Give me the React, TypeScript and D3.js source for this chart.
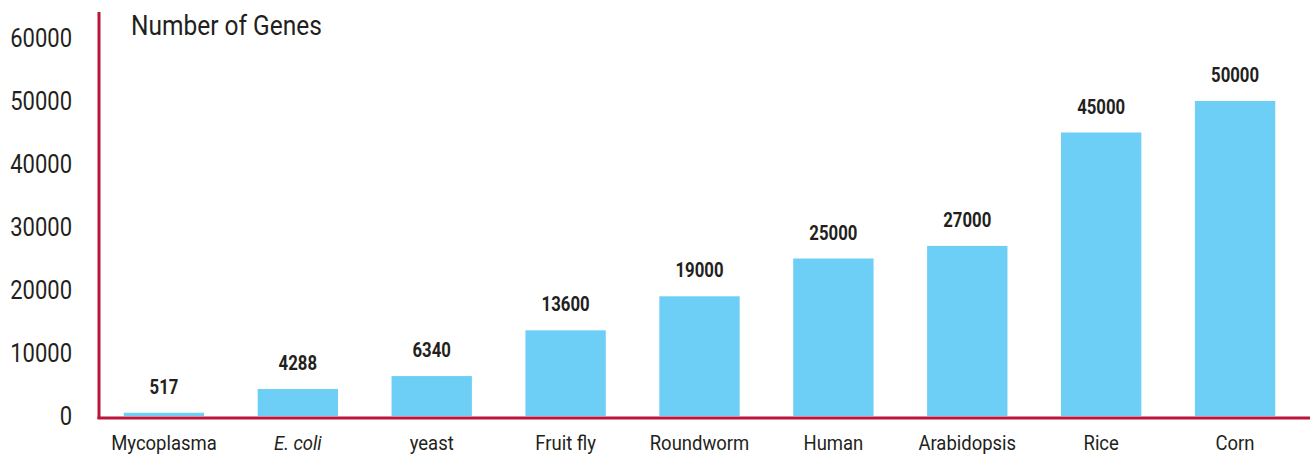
import React, { useEffect, useRef } from "react";
import * as d3 from "d3";

const organisms = [
  "Mycoplasma",
  "E. coli",
  "yeast",
  "Fruit fly",
  "Roundworm",
  "Human",
  "Arabidopsis",
  "Rice",
  "Corn",
];
const geneCounts = [517, 4288, 6340, 13600, 19000, 25000, 27000, 45000, 50000];
const yTicks = [0, 10000, 20000, 30000, 40000, 50000, 60000];
const italicNames = ["E. coli"];

// no condensed font offline, so Roboto squeezed horizontally
const FONT = "Roboto, 'Liberation Sans', sans-serif";
const AXIS_RED = "#b8173a";
const BAR_BLUE = "#6dcff6";
const TEXT = "#231f20";

function App() {
  const svgRef: any = useRef(null);

  useEffect(() => {
    document.body.style.margin = "0";
    draw();
  }, []);

  const draw = () => {
    const svg = d3.select(svgRef.current);
    svg.selectAll("*").remove();

    const x = d3
      .scaleBand()
      .domain(organisms)
      .range([97, 1302])
      .paddingInner(0.4)
      .paddingOuter(0.2);

    const y = d3.scaleLinear().domain([0, 60000]).range([416, 38]);

    // bars
    svg
      .append("g")
      .selectAll("rect")
      .data(geneCounts)
      .join("rect")
      .attr("x", (d, i) => x(organisms[i]) as number)
      .attr("y", (d) => y(d))
      .attr("width", x.bandwidth())
      .attr("height", (d) => y(0) - y(d))
      .attr("fill", BAR_BLUE);

    // value labels
    svg
      .append("g")
      .selectAll("text")
      .data(geneCounts)
      .join("text")
      .attr(
        "transform",
        (d, i) =>
          `translate(${(x(organisms[i]) as number) + x.bandwidth() / 2},${y(d) - 19}) scale(0.86,1)`
      )
      .attr("text-anchor", "middle")
      .attr("font-family", FONT)
      .attr("font-weight", "bold")
      .attr("font-size", 19.5)
      .attr("fill", TEXT)
      .text((d) => d);

    // axes lines
    svg
      .append("line")
      .attr("x1", 99)
      .attr("x2", 99)
      .attr("y1", 12)
      .attr("y2", 419)
      .attr("stroke", AXIS_RED)
      .attr("stroke-width", 3);

    svg
      .append("line")
      .attr("x1", 97.5)
      .attr("x2", 1310)
      .attr("y1", 418)
      .attr("y2", 418)
      .attr("stroke", AXIS_RED)
      .attr("stroke-width", 3);

    // y tick labels
    svg
      .append("g")
      .selectAll("text")
      .data(yTicks)
      .join("text")
      .attr("transform", (d) => `translate(72,${y(d) + 9}) scale(0.88,1)`)
      .attr("text-anchor", "end")
      .attr("font-family", FONT)
      .attr("font-size", 25)
      .attr("fill", TEXT)
      .text((d) => d);

    // category labels
    svg
      .append("g")
      .selectAll("text")
      .data(organisms)
      .join("text")
      .attr(
        "transform",
        (d) => `translate(${(x(d) as number) + x.bandwidth() / 2},450) scale(0.88,1)`
      )
      .attr("text-anchor", "middle")
      .attr("font-family", FONT)
      .attr("font-size", 21)
      .attr("font-style", (d) => (italicNames.includes(d) ? "italic" : "normal"))
      .attr("fill", TEXT)
      .text((d) => d);

    // title
    svg
      .append("text")
      .attr("transform", "translate(131,35) scale(0.875,1)")
      .attr("font-family", FONT)
      .attr("font-size", 28)
      .attr("fill", TEXT)
      .text("Number of Genes");
  };

  return (
    <div>
      <svg ref={svgRef} width={1315} height={460} style={{ display: "block" }} />
    </div>
  );
}

export default App;
